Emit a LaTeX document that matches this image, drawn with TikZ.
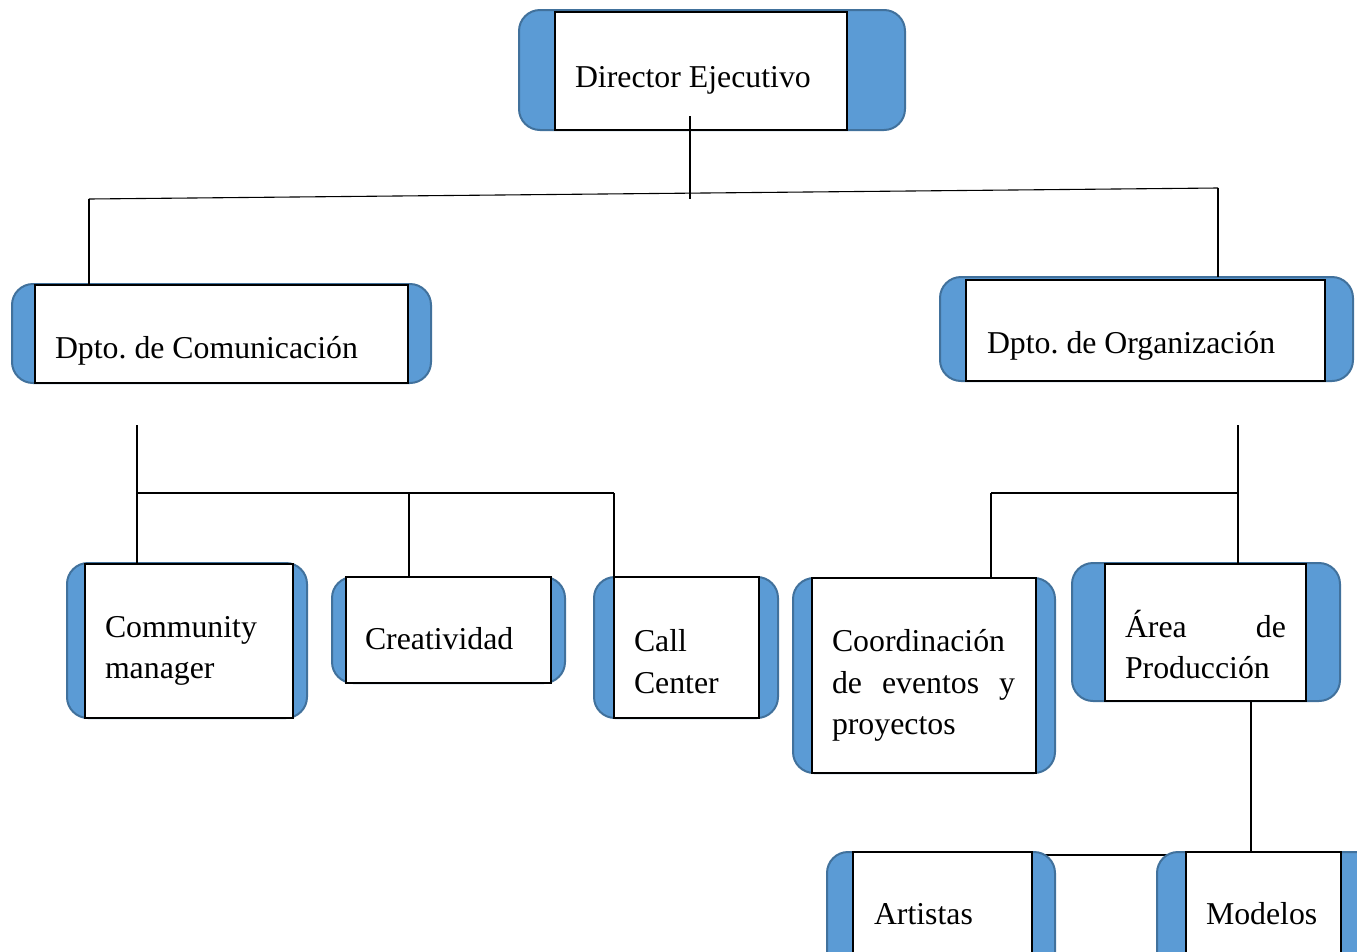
\documentclass[tikz,border=0pt]{standalone}
\usepackage{fontspec}
\setmainfont{Liberation Serif}
\usetikzlibrary{backgrounds}
\frenchspacing
\definecolor{fillblue}{HTML}{5B9BD5}
\definecolor{bordblue}{HTML}{41719C}
\tikzset{
  outerbox/.style={draw=bordblue, fill=fillblue, line width=2pt, rounded corners=21pt, inner sep=0pt, outer sep=0pt},
  innerbox/.style={draw=black, fill=white, line width=1.1pt, inner sep=0pt, outer sep=0pt},
  lbl/.style={anchor=base west, inner sep=0pt, outer sep=0pt, font=\fontsize{31.8pt}{42pt}\selectfont},
  conn/.style={draw=black, line width=1.1pt}
}
% \orgbox{name}{x1}{y1}{x2}{y2}{ix1}{iy1}{ix2}{iy2}
\newcommand{\orgbox}[9]{%
  \node[outerbox, minimum width={(#4-#2)*1pt}, minimum height={(#5-#3)*1pt}] (#1-o) at ({(#2+#4)/2},{(#3+#5)/2}) {};
  \node[innerbox, minimum width={(#8-#6)*1pt}, minimum height={(#9-#7)*1pt}] (#1) at ({(#6+#8)/2},{(#7+#9)/2}) {};
}
\begin{document}
\begin{tikzpicture}[x=1pt,y=-1pt]
\useasboundingbox (0,0) rectangle (1357,951);
\clip (0,0) rectangle (1357,951);

% boxes
\orgbox{dir}{519}{10}{905}{130}{555}{12}{847}{130}
\orgbox{com}{12}{284}{431}{383}{35}{285}{408}{383}
\orgbox{org}{940}{277}{1353}{381}{966}{280}{1325}{381}
\orgbox{cm}{67}{563}{307}{718}{85}{564}{293}{718}
\orgbox{cre}{332}{577}{565}{683}{346}{577}{551}{683}
\orgbox{cc}{594}{577}{778}{718}{614}{577}{759}{718}
\orgbox{coo}{793}{578}{1055}{773}{812}{578}{1036}{773}
\orgbox{are}{1072}{563}{1340}{701}{1105}{564}{1306}{701}
\orgbox{art}{827}{852}{1055}{1000}{853}{852}{1032}{1000}
\orgbox{mod}{1157}{852}{1380}{1000}{1186}{852}{1341}{1000}

% texts
\node[lbl] (dirT) at (575,87) {Director Ejecutivo};
\node[lbl] (comT) at (55,358) {Dpto. de Comunicación};
\node[lbl] (orgT) at (987,353) {Dpto. de Organización};
\node[lbl] (cmT1) at (105,637) {Community};
\node[lbl] (cmT2) at (105,678) {manager};
\node[lbl] (creT) at (365,649) {Creatividad};
\node[lbl] (ccT1) at (634,651) {Call};
\node[lbl] (ccT2) at (634,693) {Center};
\node[lbl] (cooT1) at (832,651) {Coordinación};
\node[lbl] (cooT2) at (832,693) {\hbox to 183pt{de\hfil eventos\hfil y}};
\node[lbl] (cooT3) at (832,734) {proyectos};
\node[lbl] (areT1) at (1125,637) {\hbox to 161pt{Área\hfil de}};
\node[lbl] (areT2) at (1125,678) {Producción};
\node[lbl] (artT) at (874,924) {Artistas};
\node[lbl] (modT) at (1206,924) {Modelos};

% connector points
\coordinate (d1) at (690,116);
\coordinate (d2) at (690,199);
\coordinate (hl) at (89,199);
\coordinate (hr) at (1218,188);
\coordinate (c0) at (137,425);
\coordinate (c1) at (137,493);
\coordinate (c2) at (409,493);
\coordinate (c3) at (614,493);
\coordinate (o0) at (1238,425);
\coordinate (o1) at (1238,493);
\coordinate (o2) at (991,493);
\coordinate (p0) at (1251,701);

% connectors
\draw[conn] (d1) -- (d2);
\draw[conn] (hl) -- (hr);
\draw[conn] (hl) -- (hl |- com-o.north);
\draw[conn] (hr) -- (hr |- org-o.north);
\draw[conn] (c0) -- (c0 |- cm-o.north);
\draw[conn] (c1) -- (c3);
\draw[conn] (c2) -- (c2 |- cre-o.north);
\draw[conn] (c3) -- (c3 |- cc-o.north);
\draw[conn] (o0) -- (o0 |- are-o.north);
\draw[conn] (o1) -- (o2);
\draw[conn] (o2) -- (o2 |- coo-o.north);
\draw[conn] (p0) -- (p0 |- mod-o.north);
\begin{scope}[on background layer]
\draw[conn] ([yshift=-3pt]art.north east) -- ([yshift=-3pt]art.north east -| mod.west);
\end{scope}
\end{tikzpicture}
\end{document}
